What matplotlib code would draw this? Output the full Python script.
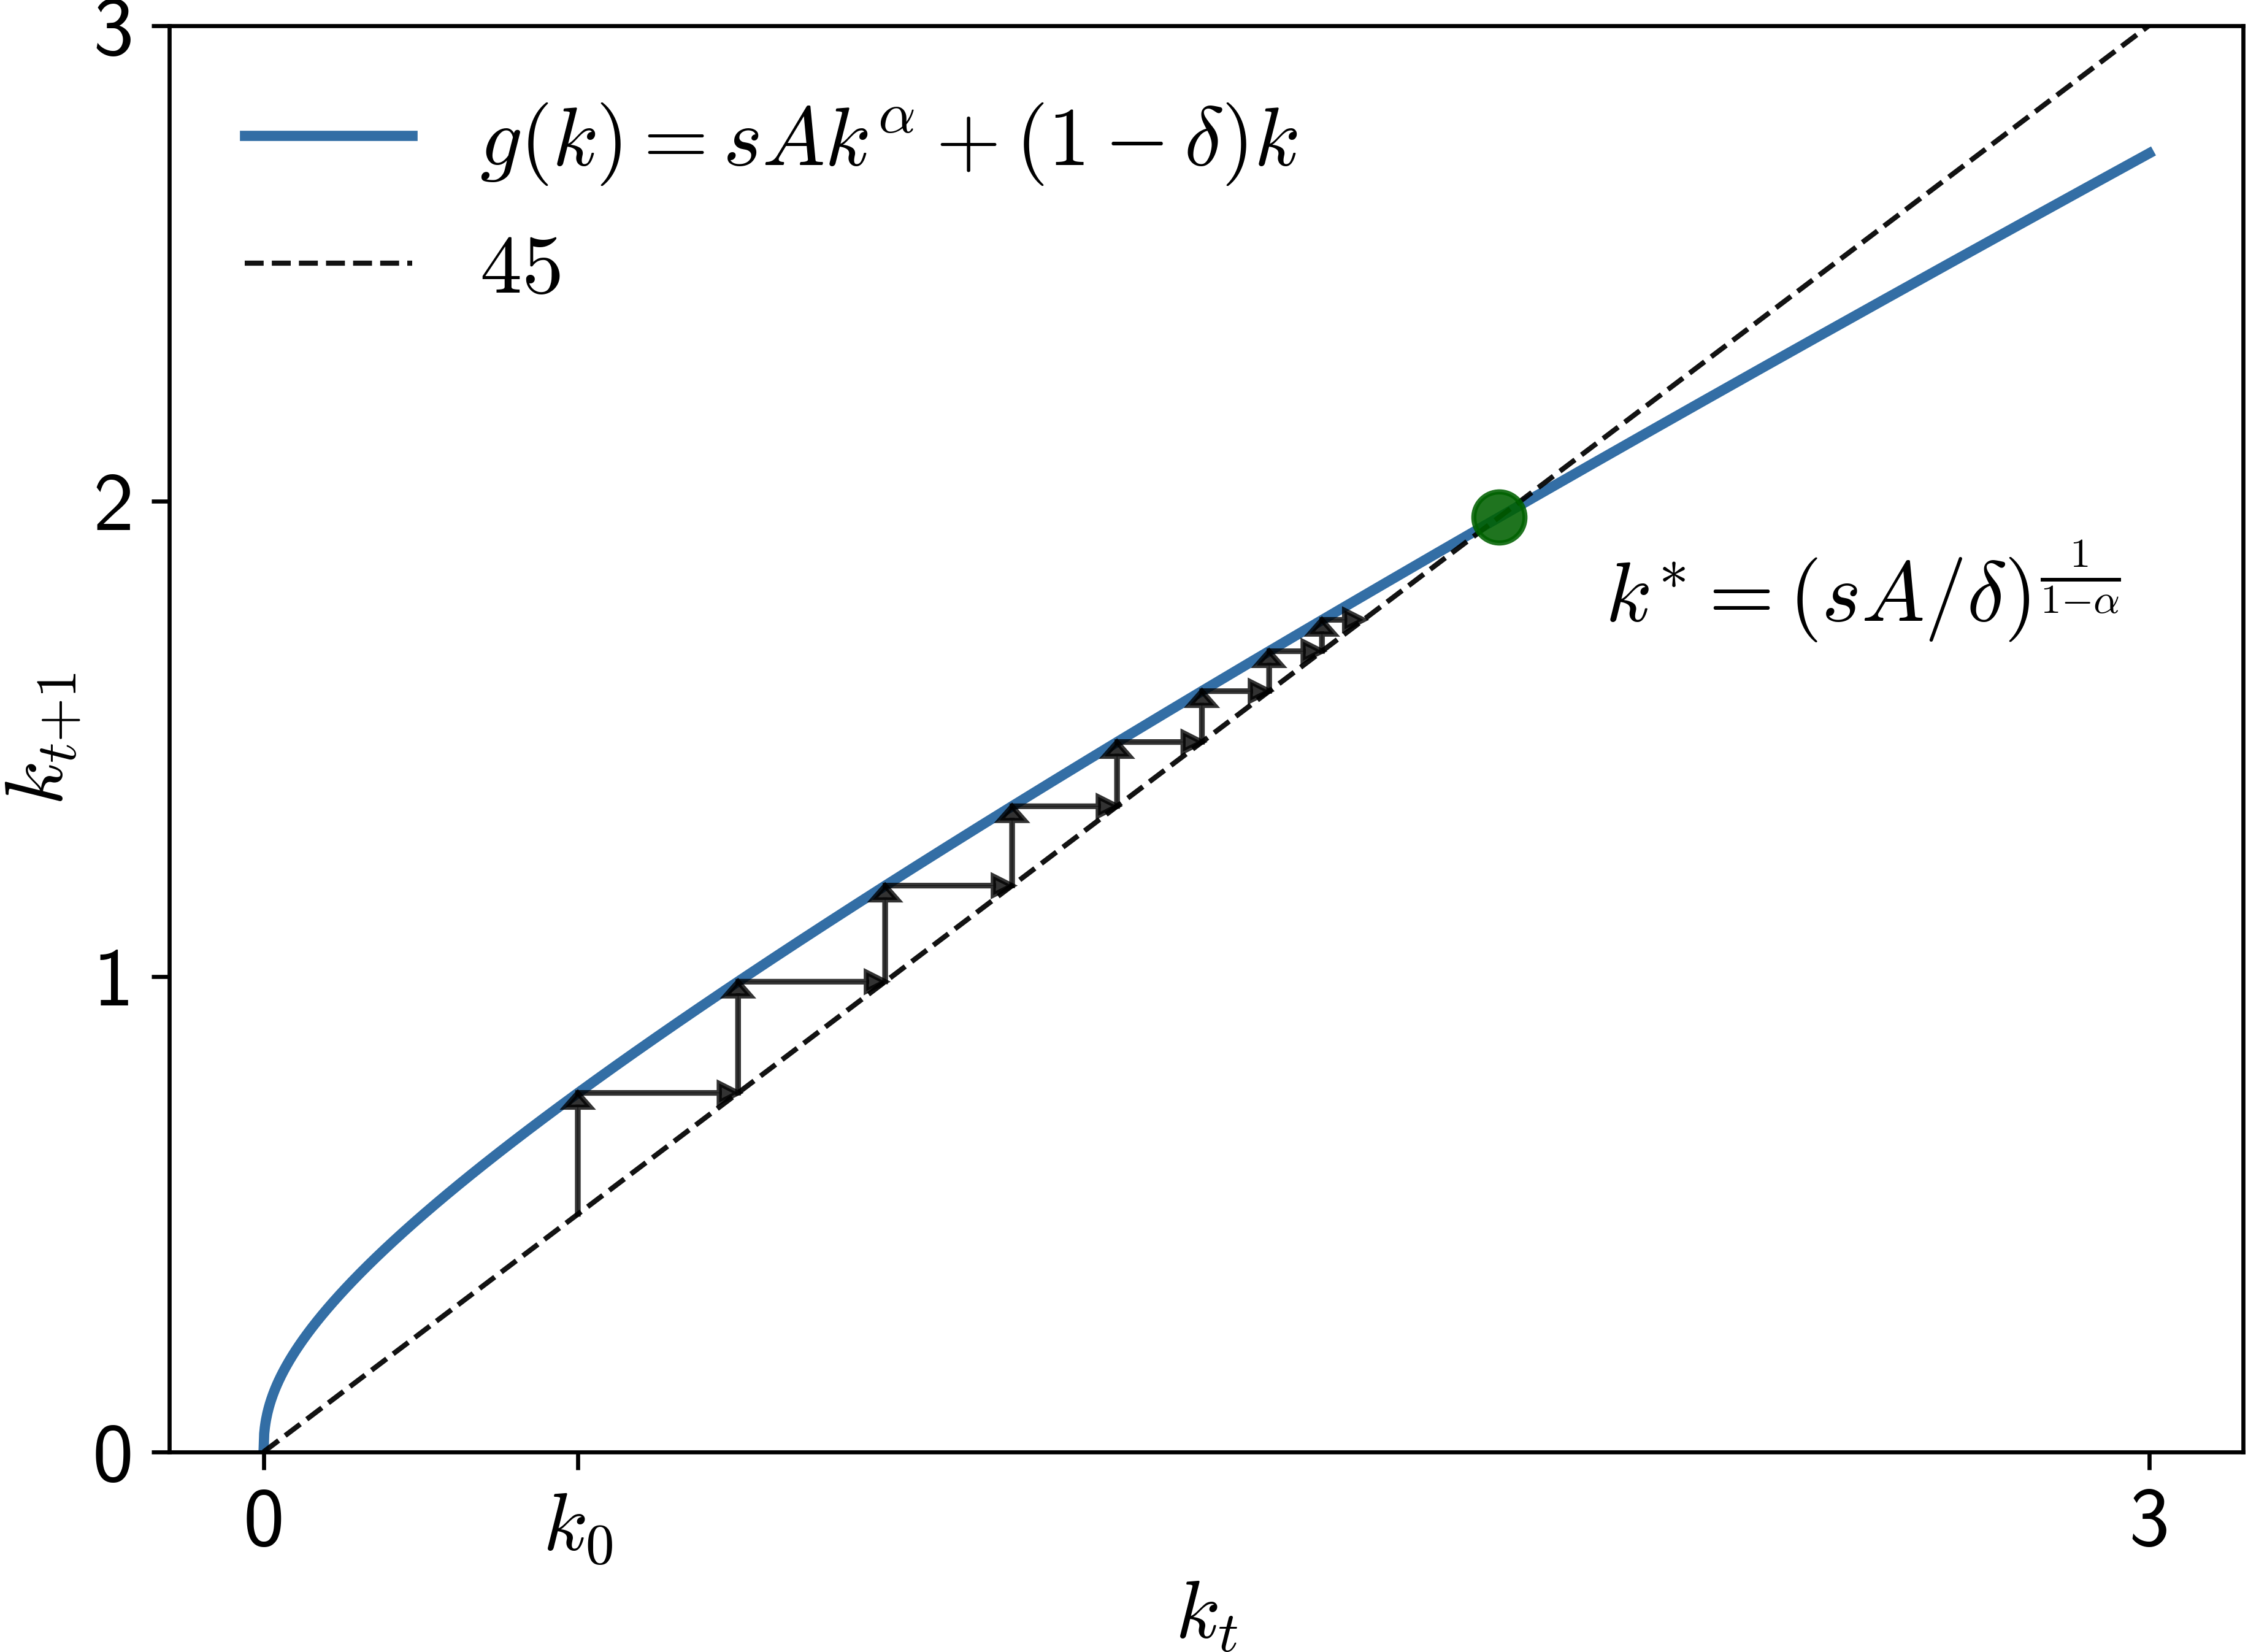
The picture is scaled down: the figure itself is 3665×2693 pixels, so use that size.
import os
import numpy as np
import matplotlib
import matplotlib.pyplot as plt
from matplotlib.font_manager import FontProperties

plt.rcParams['mathtext.fontset'] = 'cm'

# model parameters (k* ~ 1.97, g(3) ~ 2.73)
A, s, alpha, delta = 2, 0.3, 0.4, 0.4

# capital path k_0, k_1, ... drawn as the staircase
k_path = [0.5, 0.755, 0.989, 1.191, 1.358, 1.493, 1.600, 1.684, 1.750]

x_ticks = [0, 0.5, 3]
x_ticklabels = ['0', r'$k_0$', '3']
y_ticks = [0, 1, 2, 3]
y_ticklabels = ['0', '1', '2', '3']

# computer modern sans for the tick numbers
sans = FontProperties(fname=os.path.join(matplotlib.get_data_path(), 'fonts', 'ttf', 'cmss10.ttf'),
                      size=16)


def g(k):
    return s * A * k**alpha + (1 - delta) * k


kstar = (s * A / delta) ** (1 / (1 - alpha))

fig = plt.figure(figsize=(3665.4 / 600, 2693.4 / 600), dpi=600)
ax = fig.add_axes([0.0753, 0.1211, 0.9225, 0.8633])

xgrid = np.linspace(0, 3, 3000)
ax.plot(xgrid, g(xgrid), color='#336ea5', lw=2, zorder=2,
        label=r'$g(k) = sAk^{\alpha} + (1 - \delta)k$')
ax.plot(xgrid, xgrid, color='k', ls='--', lw=1, alpha=0.93, zorder=3,
        label=r'$45$')

for k, k_next in zip(k_path[:-1], k_path[1:]):
    ax.arrow(k, k, 0, k_next - k, head_width=0.04, head_length=0.03,
             length_includes_head=True, color='k', alpha=0.8, zorder=4)
    ax.arrow(k, k_next, k_next - k, 0, head_width=0.04, head_length=0.03,
             length_includes_head=True, color='k', alpha=0.8, zorder=4)

ax.plot([kstar], [kstar], 'o', color=(0.0, 0.38, 0.0), ms=10, alpha=0.88,
        zorder=5)
ax.text(2.135, 1.747, r'$k^{*} = (sA / \delta)^{\frac{1}{1{-}\alpha}}$',
        fontsize=16.5, va='baseline', ha='left')

ax.set_xlim(-0.15, 3.15)
ax.set_ylim(0, 3)
ax.set_xticks(x_ticks)
ax.set_xticklabels(x_ticklabels)
ax.set_yticks(y_ticks)
ax.set_yticklabels(y_ticklabels)
ax.tick_params(labelsize=16)
for lbl in ax.get_xticklabels() + ax.get_yticklabels():
    if not lbl.get_text().startswith('$'):
        lbl.set_fontproperties(sans)
ax.set_xlabel(r'$k_t$', fontsize=16, labelpad=1.5)
ax.set_ylabel(r'$k_{t{+}1}$', fontsize=16, labelpad=2)
ax.legend(loc='upper left', frameon=False, fontsize=16.4)

fig.savefig('out.png', dpi=600)
